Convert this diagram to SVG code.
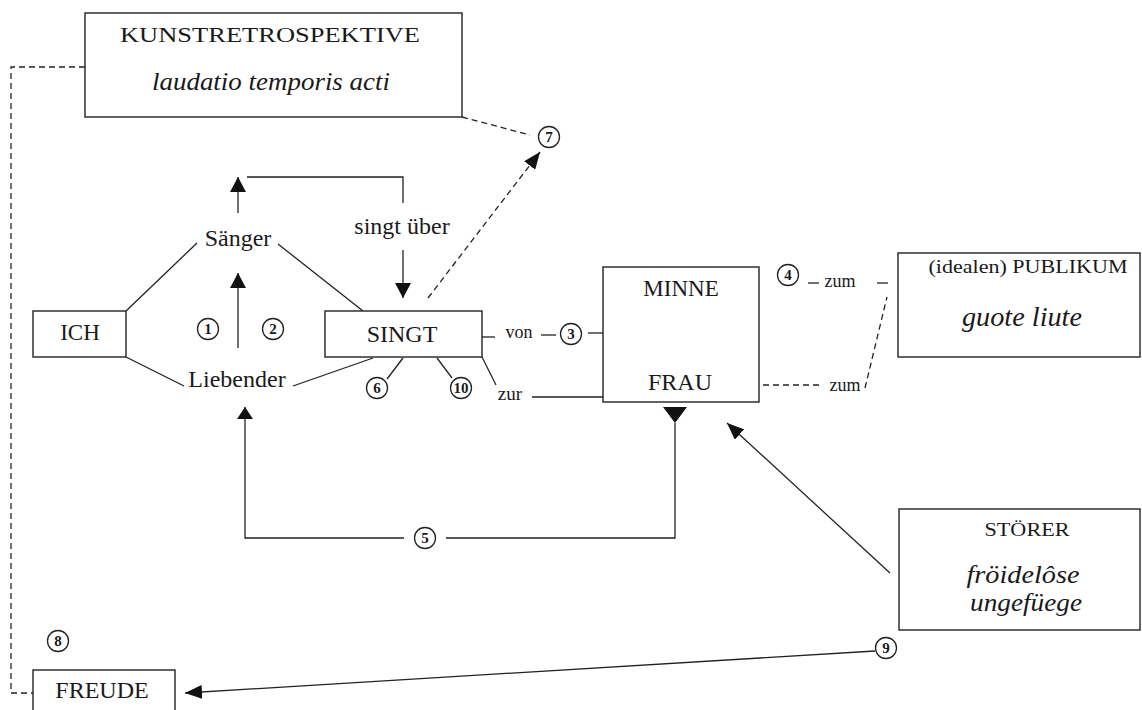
<svg xmlns="http://www.w3.org/2000/svg" width="1142" height="710" viewBox="0 0 1142 710">
<defs>
<style>
.box{fill:#fff;stroke:#222;stroke-width:1.4}
.t{font-family:"Liberation Serif","Times New Roman",serif;fill:#1a1a1a;text-anchor:middle}
.it{font-style:italic}
.ln{stroke:#222;stroke-width:1.3;fill:none}
.ds{stroke:#222;stroke-width:1.3;fill:none;stroke-dasharray:6 4}
.c{fill:#fff;stroke:#222;stroke-width:1.3}
.n{font-family:"Liberation Serif","Times New Roman",serif;font-size:15px;font-weight:bold;fill:#1a1a1a;text-anchor:middle}
.hd{fill:#111}
</style>
<marker id="arr" viewBox="0 0 15 16" refX="15" refY="8" markerWidth="15" markerHeight="16" markerUnits="userSpaceOnUse" orient="auto"><path d="M0,0 L15,8 L0,16 z" class="hd"/></marker>
<marker id="arrN" viewBox="0 0 17 14" refX="17" refY="7" markerWidth="17" markerHeight="14" markerUnits="userSpaceOnUse" orient="auto"><path d="M0,0 L17,7 L0,14 z" class="hd"/></marker>
</defs>
<rect width="1142" height="710" fill="#fff"/>

<g id="connectors">
<polyline class="ds" points="85,67 11,67 11,693 33,693"/>
<line class="ds" x1="462" y1="117" x2="530" y2="135"/>
<line class="ds" x1="428" y1="298" x2="540" y2="152" marker-end="url(#arrN)"/>
<line class="ln" x1="126" y1="311" x2="197" y2="243"/>
<line class="ln" x1="278" y1="244" x2="363" y2="311"/>
<line class="ln" x1="126" y1="357" x2="184" y2="386"/>
<line class="ln" x1="293" y1="386" x2="373" y2="358"/>
<line class="ln" x1="238" y1="213" x2="238" y2="177" marker-end="url(#arr)"/>
<polyline class="ln" points="403,203 403,177 247,177"/>
<line class="ln" x1="403" y1="250" x2="403" y2="298" marker-end="url(#arr)"/>
<line class="ln" x1="238" y1="348" x2="238" y2="273" marker-end="url(#arr)"/>
<line class="ln" x1="403" y1="358" x2="387" y2="379"/>
<line class="ln" x1="437" y1="358" x2="452" y2="378"/>
<line class="ln" x1="482" y1="357" x2="496" y2="385"/>
<line class="ln" x1="532" y1="397" x2="603" y2="397"/>
<line class="ln" x1="482" y1="337" x2="495" y2="337"/>
<line class="ln" x1="541" y1="335" x2="556" y2="335"/>
<line class="ln" x1="588" y1="333" x2="603" y2="333"/>
<line class="ln" x1="808" y1="283" x2="819" y2="283"/>
<line class="ln" x1="877" y1="283" x2="888" y2="283"/>
<line class="ds" x1="743" y1="385" x2="822" y2="385"/>
<line class="ds" x1="865" y1="388" x2="887" y2="297"/>
<polygon class="hd" points="663,407 687,407 675,423"/>
<polyline class="ln" points="675,423 675,538 446,538"/>
<polyline class="ln" points="404,538 245,538 245,407"/>
<polygon class="hd" points="237,419 253,419 245,407"/>
<line class="ln" x1="890" y1="573" x2="727" y2="423" marker-end="url(#arrN)"/>
<line class="ln" x1="875" y1="651" x2="185" y2="693" marker-end="url(#arrN)"/>
<text class="t" x="519" y="338" font-size="18">von</text>
<text class="t" x="510" y="400" font-size="19">zur</text>
<text class="t" x="845" y="391" font-size="18">zum</text>
<text class="t" x="840" y="287" font-size="18">zum</text>
</g>

<g id="kunstretrospektive">
<rect class="box" x="85" y="13" width="377" height="104"/>
<text class="t" x="270" y="42" font-size="22" textLength="300" lengthAdjust="spacingAndGlyphs">KUNSTRETROSPEKTIVE</text>
<text class="t it" x="271" y="90" font-size="26" textLength="238" lengthAdjust="spacingAndGlyphs">laudatio temporis acti</text>
</g>

<g id="ich">
<rect class="box" x="33" y="311" width="93" height="46"/>
<text class="t" x="80" y="340" font-size="23">ICH</text>
</g>

<g id="saenger">
<text class="t" x="238" y="246" font-size="24">Sänger</text>
</g>

<g id="liebender">
<text class="t" x="237" y="387" font-size="24">Liebender</text>
</g>

<g id="singt-ueber">
<text class="t" x="402" y="234" font-size="24">singt über</text>
</g>

<g id="singt">
<rect class="box" x="325" y="311" width="157" height="46"/>
<text class="t" x="402" y="342" font-size="24">SINGT</text>
</g>

<g id="minne-frau">
<rect class="box" x="603" y="267" width="156" height="135"/>
<text class="t" x="681" y="296" font-size="23">MINNE</text>
<text class="t" x="680" y="390" font-size="24">FRAU</text>
</g>

<g id="publikum">
<rect class="box" x="898" y="253" width="242" height="104"/>
<text class="t" x="1028" y="273" font-size="19" textLength="199" lengthAdjust="spacingAndGlyphs">(idealen) PUBLIKUM</text>
<text class="t it" x="1022" y="326" font-size="27" textLength="120" lengthAdjust="spacingAndGlyphs">guote liute</text>
</g>

<g id="stoerer">
<rect class="box" x="899" y="509" width="241" height="121"/>
<text class="t" x="1027" y="536" font-size="18" textLength="85" lengthAdjust="spacingAndGlyphs">STÖRER</text>
<text class="t it" x="1023" y="583" font-size="26" textLength="113" lengthAdjust="spacingAndGlyphs">fröidelôse</text>
<text class="t it" x="1026" y="611" font-size="26" textLength="112" lengthAdjust="spacingAndGlyphs">ungefüege</text>
</g>

<g id="freude">
<rect class="box" x="33" y="670" width="142" height="45"/>
<text class="t" x="102" y="698" font-size="24">FREUDE</text>
</g>

<g id="n1"><circle class="c" cx="208" cy="329" r="10.5"/><text class="n" x="208" y="334">1</text></g>
<g id="n2"><circle class="c" cx="273" cy="329" r="10.5"/><text class="n" x="273" y="334">2</text></g>
<g id="n3"><circle class="c" cx="571" cy="334" r="10.5"/><text class="n" x="571" y="339">3</text></g>
<g id="n4"><circle class="c" cx="788" cy="275" r="10.5"/><text class="n" x="788" y="280">4</text></g>
<g id="n5"><circle class="c" cx="425" cy="538" r="10.5"/><text class="n" x="425" y="543">5</text></g>
<g id="n6"><circle class="c" cx="377" cy="388" r="10.5"/><text class="n" x="377" y="393">6</text></g>
<g id="n7"><circle class="c" cx="549" cy="137" r="10.5"/><text class="n" x="549" y="142">7</text></g>
<g id="n8"><circle class="c" cx="58" cy="641" r="10.5"/><text class="n" x="58" y="646">8</text></g>
<g id="n9"><circle class="c" cx="886" cy="648" r="10.5"/><text class="n" x="886" y="653">9</text></g>
<g id="n10"><circle class="c" cx="461" cy="388" r="10.5"/><text class="n" x="461" y="392.5" font-size="13">10</text></g>
</svg>
